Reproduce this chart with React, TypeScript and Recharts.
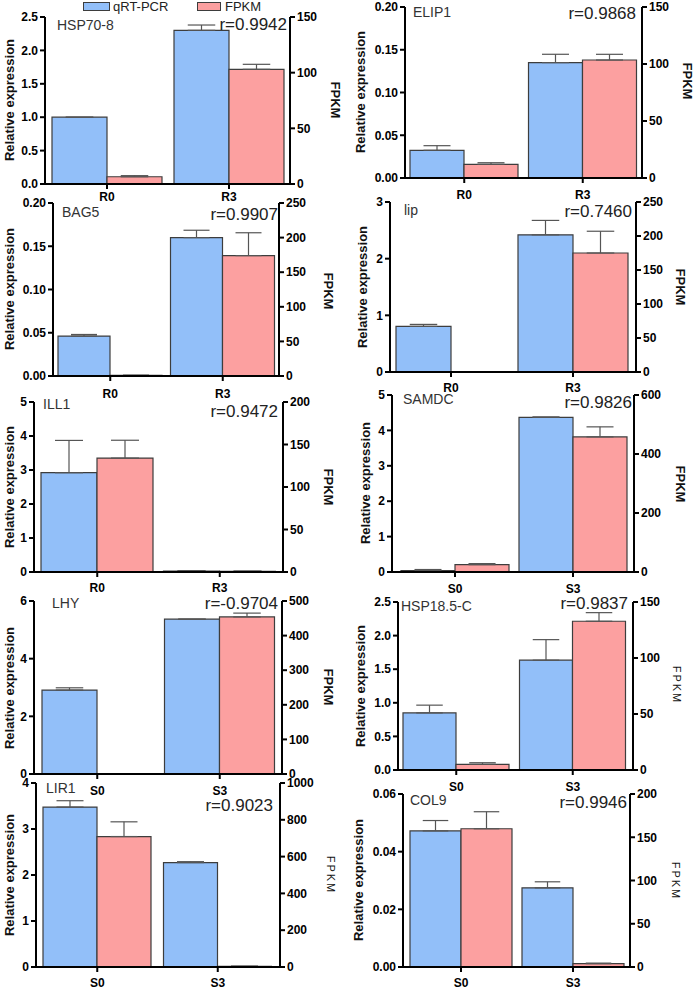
// Ten dual-axis bar panels: qRT-PCR (left axis) vs FPKM (right axis)
import React from 'react';
import { BarChart, Bar, XAxis, YAxis, ErrorBar } from 'recharts';

const rCats = ['R0', 'R3'];
const sCats = ['S0', 'S3'];

// HSP70-8
const hsp70Qpcr = [1.0, 2.3];
const hsp70QpcrErr = [0, 0.08];
const hsp70Fpkm = [6.5, 103];
const hsp70FpkmErr = [1.0, 4.5];
const hsp70LeftTicks = [0, 0.5, 1, 1.5, 2, 2.5];
const hsp70RightTicks = [0, 50, 100, 150];

// ELIP1
const elipQpcr = [0.0324, 0.135];
const elipQpcrErr = [0.0054, 0.0097];
const elipFpkm = [12, 103.5];
const elipFpkmErr = [1.4, 5];
const elipLeftTicks = [0, 0.05, 0.1, 0.15, 0.2];
const elipRightTicks = [0, 50, 100, 150];

// BAG5
const bagQpcr = [0.0462, 0.16];
const bagQpcrErr = [0.0018, 0.0085];
const bagFpkm = [1, 174];
const bagFpkmErr = [0, 33];
const bagLeftTicks = [0, 0.05, 0.1, 0.15, 0.2];
const bagRightTicks = [0, 50, 100, 150, 200, 250];

// lip
const lipQpcr = [0.805, 2.42];
const lipQpcrErr = [0.035, 0.255];
const lipFpkm = [0.6, 175];
const lipFpkmErr = [0, 32];
const lipLeftTicks = [0, 1, 2, 3];
const lipRightTicks = [0, 50, 100, 150, 200, 250];

// ILL1
const illQpcr = [2.92, 0.03];
const illQpcrErr = [0.95, 0.01];
const illFpkm = [134, 0.8];
const illFpkmErr = [21, 0.3];
const illLeftTicks = [0, 1, 2, 3, 4, 5];
const illRightTicks = [0, 50, 100, 150, 200];

// SAMDC
const samdcQpcr = [0.04, 4.37];
const samdcQpcrErr = [0.03, 0.01];
const samdcFpkm = [25, 458];
const samdcFpkmErr = [3.5, 34];
const samdcLeftTicks = [0, 1, 2, 3, 4, 5];
const samdcRightTicks = [0, 200, 400, 600];

// LHY
const lhyQpcr = [2.91, 5.37];
const lhyQpcrErr = [0.08, 0];
const lhyFpkm = [0, 454];
const lhyFpkmErr = [0, 11];
const lhyLeftTicks = [0, 2, 4, 6];
const lhyRightTicks = [0, 100, 200, 300, 400, 500];

// HSP18.5-C
const hsp18Qpcr = [0.85, 1.634];
const hsp18QpcrErr = [0.115, 0.306];
const hsp18Fpkm = [5.1, 132.8];
const hsp18FpkmErr = [1.4, 7.7];
const hsp18LeftTicks = [0, 0.5, 1, 1.5, 2, 2.5];
const hsp18RightTicks = [0, 50, 100, 150];

// LIR1
const lirQpcr = [3.477, 2.27];
const lirQpcrErr = [0.138, 0.02];
const lirFpkm = [709, 3];
const lirFpkmErr = [80, 2];
const lirLeftTicks = [0, 1, 2, 3, 4];
const lirRightTicks = [0, 200, 400, 600, 800, 1000];

// COL9
const colQpcr = [0.0472, 0.02745];
const colQpcrErr = [0.0036, 0.0021];
const colFpkm = [159.8, 3.9];
const colFpkmErr = [19.7, 0.6];
const colLeftTicks = [0, 0.02, 0.04, 0.06];
const colRightTicks = [0, 50, 100, 150, 200];

const BLUE = '#92BFF9';
const PINK = '#FCA0A0';
const EDGE = '#3d3d3d';
const ERR = '#555555';
const FONT = "'Liberation Sans', Arial, sans-serif";

// layout: plot box (l,t,r,b), category centres, bar width, text anchors
const panels = [
  {
    gene: 'HSP70-8', r: 'r=0.9942', cats: rCats, q: hsp70Qpcr, qe: hsp70QpcrErr, f: hsp70Fpkm, fe: hsp70FpkmErr,
    lt: hsp70LeftTicks, rt: hsp70RightTicks, dec: 1,
    box: [45, 17, 290, 184], c: [107, 229], bar: 55, gap: 3,
    geneAt: [57, 25], rAt: [287, 24], yAt: [9, 100], fAt: [335, 100], light: false,
  },
  {
    gene: 'ELIP1', r: 'r=0.9868', cats: rCats, q: elipQpcr, qe: elipQpcrErr, f: elipFpkm, fe: elipFpkmErr,
    lt: elipLeftTicks, rt: elipRightTicks, dec: 2,
    box: [405, 7, 642, 178], c: [464, 583], bar: 54, gap: 7,
    geneAt: [413, 12], rAt: [636, 13], yAt: [360, 92], fAt: [687, 81], light: false,
  },
  {
    gene: 'BAG5', r: 'r=0.9907', cats: rCats, q: bagQpcr, qe: bagQpcrErr, f: bagFpkm, fe: bagFpkmErr,
    lt: bagLeftTicks, rt: bagRightTicks, dec: 2,
    box: [53, 203, 279, 376], c: [110, 223], bar: 52, gap: 8,
    geneAt: [62, 212], rAt: [278, 214], yAt: [9, 289], fAt: [328, 291], light: false,
  },
  {
    gene: 'lip', r: 'r=0.7460', cats: rCats, q: lipQpcr, qe: lipQpcrErr, f: lipFpkm, fe: lipFpkmErr,
    lt: lipLeftTicks, rt: lipRightTicks, dec: 0,
    box: [390, 202, 636, 372], c: [451, 573], bar: 55, gap: 6,
    geneAt: [404, 210], rAt: [632, 211], yAt: [362, 287], fAt: [680, 287], light: false,
  },
  {
    gene: 'ILL1', r: 'r=0.9472', cats: rCats, q: illQpcr, qe: illQpcrErr, f: illFpkm, fe: illFpkmErr,
    lt: illLeftTicks, rt: illRightTicks, dec: 0,
    box: [34, 402, 283, 572], c: [97, 220], bar: 56, gap: 6,
    geneAt: [43, 404], rAt: [278, 411], yAt: [9, 487], fAt: [328, 487], light: false,
  },
  {
    gene: 'SAMDC', r: 'r=0.9826', cats: sCats, q: samdcQpcr, qe: samdcQpcrErr, f: samdcFpkm, fe: samdcFpkmErr,
    lt: samdcLeftTicks, rt: samdcRightTicks, dec: 0,
    box: [392, 395, 634, 572], c: [455, 573], bar: 54, gap: 7,
    geneAt: [403, 399], rAt: [632, 402], yAt: [365, 483], fAt: [680, 484], light: false,
  },
  {
    gene: 'LHY', r: 'r=-0.9704', cats: sCats, q: lhyQpcr, qe: lhyQpcrErr, f: lhyFpkm, fe: lhyFpkmErr,
    lt: lhyLeftTicks, rt: lhyRightTicks, dec: 0,
    box: [34, 601, 282, 774], c: [97, 220], bar: 55, gap: 7,
    geneAt: [52, 603], rAt: [278, 603], yAt: [9, 688], fAt: [328, 687], light: false,
  },
  {
    gene: 'HSP18.5-C', r: 'r=0.9837', cats: sCats, q: hsp18Qpcr, qe: hsp18QpcrErr, f: hsp18Fpkm, fe: hsp18FpkmErr,
    lt: hsp18LeftTicks, rt: hsp18RightTicks, dec: 1,
    box: [398, 602, 633, 770], c: [456, 573], bar: 53, gap: 7,
    geneAt: [401, 606], rAt: [628, 603], yAt: [360, 686], fAt: [676, 685], light: true,
  },
  {
    gene: 'LIR1', r: 'r=0.9023', cats: sCats, q: lirQpcr, qe: lirQpcrErr, f: lirFpkm, fe: lirFpkmErr,
    lt: lirLeftTicks, rt: lirRightTicks, dec: 0,
    box: [36, 783, 280, 967], c: [97, 218], bar: 54, gap: 6,
    geneAt: [46, 788], rAt: [273, 805], yAt: [9, 875], fAt: [330, 875], light: true,
  },
  {
    gene: 'COL9', r: 'r=0.9946', cats: sCats, q: colQpcr, qe: colQpcrErr, f: colFpkm, fe: colFpkmErr,
    lt: colLeftTicks, rt: colRightTicks, dec: 2,
    box: [403, 794, 630, 967], c: [461, 573], bar: 51, gap: 6,
    geneAt: [410, 800], rAt: [627, 802], yAt: [358, 880], fAt: [675, 881], light: true,
  },
];

const axisLine = { stroke: '#000', strokeWidth: 2 };
const tickFont = { fill: '#000', fontSize: 12, fontWeight: 'bold', fontFamily: FONT };

function Panel({ p }: any) {
  const AXL = 50;
  const AXR = 45;
  const MT = 10;
  const XH = 30;
  const [l, t, r, b] = p.box;
  const band = p.c[1] - p.c[0];
  const padL = Math.max(0, Math.round(p.c[0] - l - band / 2));
  const padR = Math.max(0, Math.round(r - p.c[1] - band / 2));
  const rows = p.cats.map((cat: string, i: number) => ({
    cat,
    q: p.q[i],
    qe: [0, p.qe[i]],
    f: p.f[i],
    fe: [0, p.fe[i]],
  }));
  const lMax = p.lt[p.lt.length - 1];
  const rMax = p.rt[p.rt.length - 1];

  return (
    <div style={{ position: 'absolute', left: l - AXL, top: t - MT }}>
      <BarChart
        width={r - l + AXL + AXR}
        height={b - t + MT + XH}
        data={rows}
        margin={{ top: MT, right: 0, bottom: 0, left: 0 }}
        barGap={0}
        barSize={p.bar}
      >
        <XAxis
          dataKey="cat"
          height={XH}
          interval={0}
          padding={{ left: padL, right: padR }}
          axisLine={axisLine}
          tickLine={axisLine}
          tickSize={5}
          tickMargin={p.gap}
          tick={tickFont}
        />
        <YAxis
          yAxisId="left"
          width={AXL}
          domain={[0, lMax]}
          ticks={p.lt}
          interval={0}
          tickFormatter={(v: number) => v.toFixed(p.dec)}
          axisLine={axisLine}
          tickLine={axisLine}
          tickSize={5}
          tick={tickFont}
        />
        <YAxis
          yAxisId="right"
          orientation="right"
          width={AXR}
          domain={[0, rMax]}
          ticks={p.rt}
          interval={0}
          axisLine={axisLine}
          tickLine={axisLine}
          tickSize={5}
          tick={tickFont}
        />
        <Bar yAxisId="left" dataKey="q" fill={BLUE} stroke={EDGE} strokeWidth={1.2} isAnimationActive={false}>
          <ErrorBar dataKey="qe" direction="y" width={p.bar / 4} stroke={ERR} strokeWidth={1.2} />
        </Bar>
        <Bar yAxisId="right" dataKey="f" fill={PINK} stroke={EDGE} strokeWidth={1.2} isAnimationActive={false}>
          <ErrorBar dataKey="fe" direction="y" width={p.bar / 4} stroke={ERR} strokeWidth={1.2} />
        </Bar>
      </BarChart>
    </div>
  );
}

function Texts({ p }: any) {
  const base: React.CSSProperties = { position: 'absolute', whiteSpace: 'nowrap', lineHeight: 1, fontFamily: FONT };
  return (
    <>
      <div style={{ ...base, left: p.geneAt[0], top: p.geneAt[1], transform: 'translateY(-50%)', fontSize: 14, color: '#333' }}>
        {p.gene}
      </div>
      <div style={{ ...base, left: p.rAt[0], top: p.rAt[1], transform: 'translate(-100%, -50%)', fontSize: 17, color: '#222' }}>
        {p.r}
      </div>
      <div
        style={{
          ...base,
          left: p.yAt[0],
          top: p.yAt[1],
          transform: 'translate(-50%, -50%) rotate(-90deg)',
          fontSize: 13,
          fontWeight: 'bold',
          color: '#111',
        }}
      >
        Relative expression
      </div>
      <div
        style={{
          ...base,
          left: p.fAt[0],
          top: p.fAt[1],
          transform: 'translate(-50%, -50%) rotate(90deg)',
          fontSize: p.light ? 11 : 13,
          fontWeight: p.light ? 'normal' : 'bold',
          letterSpacing: p.light ? 2 : 0,
          color: '#111',
        }}
      >
        FPKM
      </div>
    </>
  );
}

function LegendRow() {
  const sw = (left: number, w: number, color: string) => (
    <div
      style={{
        position: 'absolute',
        left,
        top: 2,
        width: w,
        height: 9,
        background: color,
        border: `1px solid ${EDGE}`,
        boxSizing: 'border-box',
      }}
    />
  );
  const txt = (left: number, s: string) => (
    <div style={{ position: 'absolute', left, top: 0, fontSize: 13, lineHeight: '13px', fontFamily: FONT, color: '#222' }}>{s}</div>
  );
  return (
    <>
      {sw(83, 27, BLUE)}
      {txt(113, 'qRT-PCR')}
      {sw(197, 24, PINK)}
      {txt(225, 'FPKM')}
    </>
  );
}

export default function App() {
  return (
    <div
      style={{
        position: 'absolute',
        left: 0,
        top: 0,
        width: 697,
        height: 991,
        overflow: 'hidden',
        background: '#fff',
        fontFamily: FONT,
      }}
    >
      {panels.map((p) => (
        <Panel key={p.gene} p={p} />
      ))}
      {panels.map((p) => (
        <Texts key={p.gene + '-t'} p={p} />
      ))}
      <LegendRow />
    </div>
  );
}
